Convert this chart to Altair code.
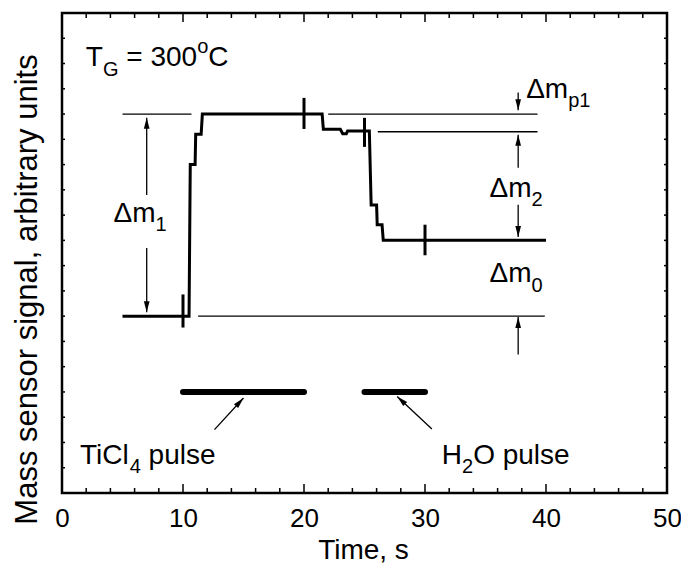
import math
import altair as alt
import pandas as pd

# ---------------- data ----------------
# main mass-sensor trace (time in s, signal in arbitrary units)
sig_t = [5.0, 10.5, 10.6, 11.0, 11.05, 11.5, 11.6, 21.5, 21.6, 23.0, 23.2, 23.5,
         23.6, 25.4, 25.55, 26.0, 26.05, 26.45, 26.55, 40.0]
sig_y = [7.0, 7.0, 13.0, 13.0, 14.2, 14.2, 15.0, 15.0, 14.4, 14.4, 14.22, 14.22,
         14.33, 14.33, 11.4, 11.4, 10.62, 10.62, 10.0, 10.0]

# short vertical markers crossing the trace at pulse start / end
mark_t = [10, 20, 25, 30]
mark_lo = [6.55, 14.41, 13.7, 9.41]
mark_hi = [7.86, 15.64, 14.85, 10.62]

# thin horizontal reference levels
ref_x1 = [5.0, 22.0, 26.1, 11.25]
ref_x2 = [10.7, 39.3, 39.3, 39.9]
ref_y = [15.0, 15.0, 14.3, 7.0]

# pulse bars (TiCl4, H2O)
pulse_x1 = [10, 25]
pulse_x2 = [20, 30]
pulse_y = [4.0, 4.0]

# arrows: tail (x1, y1) -> tip (x2, y2)
arr_x1 = [7.0, 7.0, 37.7, 37.7, 37.7, 37.7, 12.6, 30.57]
arr_y1 = [11.8, 9.7, 15.85, 12.87, 11.41, 5.48, 2.51, 2.53]
arr_x2 = [7.0, 7.0, 37.7, 37.7, 37.7, 37.7, 15.0, 27.7]
arr_y2 = [14.85, 7.15, 15.15, 14.18, 10.13, 6.97, 3.76, 3.82]

# annotations: anchor (time, signal) of the first glyph's baseline, and the
# text runs: (text, is_small, shift) with shift -1 = superscript, +1 = subscript
ann_x = [1.97, 38.36, 35.33, 35.33, 4.26, 1.48, 31.39]
ann_y = [16.89, 15.64, 11.72, 8.34, 10.74, 1.15, 1.15]
ann_runs = [
    [("T", 0, 0), ("G", 1, 1), (" = 300", 0, 0), ("o", 1, -1), ("C", 0, 0)],
    [("\u0394m", 0, 0), ("p1", 1, 1)],
    [("\u0394m", 0, 0), ("2", 1, 1)],
    [("\u0394m", 0, 0), ("0", 1, 1)],
    [("\u0394m", 0, 0), ("1", 1, 1)],
    [("TiCl", 0, 0), ("4", 1, 1), (" pulse", 0, 0)],
    [("H", 0, 0), ("2", 1, 1), ("O pulse", 0, 0)],
]

x_major = [0, 10, 20, 30, 40, 50]
x_minor = [v for v in range(2, 50, 2) if v % 10 != 0]
y_ticks = list(range(1, 19))

# ---------------- chart ----------------
W, H = 605, 480
XMAX, YMAX = 50, 19
FONT = "Liberation Sans"
FS_MAIN, FS_SMALL = 28, 20
SUB_PX, SUP_PX = 9.3, 13.5

# Liberation Sans (Arial metrics) advance widths, em units
ADV = {"T": .611, "G": .778, " ": .278, "=": .584, "0": .556, "1": .556,
       "2": .556, "3": .556, "4": .556, "o": .556, "C": .722, "\u0394": .668,
       "m": .833, "p": .556, "i": .222, "l": .222, "u": .556, "s": .5,
       "e": .556, "H": .722, "O": .778}


def text_w(s, size):
    return sum(ADV.get(c, .556) for c in s) * size


rows = []
for ax, ay, runs in zip(ann_x, ann_y, ann_runs):
    cur = 0.0
    for s, small, shift in runs:
        size = FS_SMALL if small else FS_MAIN
        lead = len(s) - len(s.lstrip(" "))
        cur += lead * ADV[" "] * size
        body = s.strip(" ")
        dy = SUB_PX if shift > 0 else (-SUP_PX if shift < 0 else 0.0)
        rows.append({"s": body, "x": ax + cur * XMAX / W,
                     "y": ay - dy * YMAX / H, "small": small})
        cur += text_w(body, size)
texts = pd.DataFrame(rows)

xs = alt.Scale(domain=[0, XMAX], nice=False, zero=False)
ys = alt.Scale(domain=[0, YMAX], nice=False, zero=False)

xaxis = alt.Axis(values=x_major, ticks=False, domain=False, grid=False,
                 labelFont=FONT, labelFontSize=26, labelColor="black",
                 labelPadding=12, labelFlush=False,
                 title="Time, s", titleFont=FONT, titleFontSize=28,
                 titleFontWeight="normal", titleColor="black",
                 titleX=301, titleY=65, titleBaseline="alphabetic")
yaxis = alt.Axis(labels=False, ticks=False, domain=False, grid=False,
                 title="Mass sensor signal, arbitrary units", titleFont=FONT,
                 titleFontSize=31, titleFontWeight="normal", titleColor="black",
                 titleAngle=270, titleX=-26, titleY=276,
                 titleBaseline="alphabetic", titleAlign="center")


def X(f):
    return alt.X(f, type="quantitative", scale=xs, axis=xaxis)


def Y(f):
    return alt.Y(f, type="quantitative", scale=ys, axis=yaxis)


sig = pd.DataFrame({"t": sig_t, "y": sig_y, "i": range(len(sig_t))})
marks = pd.DataFrame({"t": mark_t, "lo": mark_lo, "hi": mark_hi})
refs = pd.DataFrame({"x1": ref_x1, "x2": ref_x2, "y": ref_y})
pulses = pd.DataFrame({"x1": pulse_x1, "x2": pulse_x2, "y": pulse_y})
ang = []
for a, b, c, d in zip(arr_x1, arr_y1, arr_x2, arr_y2):
    dx = (c - a) * W / XMAX
    dy = -(d - b) * H / YMAX
    ang.append(math.degrees(math.atan2(dx, -dy)) % 360)
arrows = pd.DataFrame({"x1": arr_x1, "y1": arr_y1, "x2": arr_x2, "y2": arr_y2, "ang": ang})

line = alt.Chart(sig).mark_line(color="black", strokeWidth=3, strokeJoin="miter").encode(
    x=X("t"), y=Y("y"), order="i:Q",
)

ref = alt.Chart(refs).mark_rule(color="black", strokeWidth=1.3).encode(
    x=X("x1"), x2="x2:Q", y=Y("y"),
)

mk = alt.Chart(marks).mark_rule(color="black", strokeWidth=3).encode(
    x=X("t"), y=Y("lo"), y2="hi:Q",
)

pb = alt.Chart(pulses).mark_rule(color="black", strokeWidth=6, strokeCap="round").encode(
    x=X("x1"), x2="x2:Q", y=Y("y"),
)

arr_lines = alt.Chart(arrows).mark_rule(color="black", strokeWidth=1.3).encode(
    x=X("x1"), x2="x2:Q", y=Y("y1"), y2="y2:Q",
)

arr_heads = alt.Chart(arrows).mark_point(
    shape="M0,0L-0.26,1L0.26,1Z", filled=True, color="black", opacity=1,
    size=484, strokeWidth=0,
).encode(
    x=X("x2"), y=Y("y2"), angle=alt.Angle("ang:Q", scale=None),
)

t_main = alt.Chart(texts).transform_filter("datum.small == 0").mark_text(
    font=FONT, fontSize=FS_MAIN, color="black", align="left", baseline="alphabetic"
).encode(x=X("x"), y=Y("y"), text="s:N")
t_small = alt.Chart(texts).transform_filter("datum.small == 1").mark_text(
    font=FONT, fontSize=FS_SMALL, color="black", align="left", baseline="alphabetic"
).encode(x=X("x"), y=Y("y"), text="s:N")

# inward tick marks on all four sides
xt_major = pd.DataFrame({"t": x_major})
xt_minor = pd.DataFrame({"t": x_minor})
ytk = pd.DataFrame({"v": y_ticks})


def xticks(df, length):
    base = alt.Chart(df).mark_rule(color="black", strokeWidth=1.5)
    bot = base.encode(x=X("t"), y=alt.value(H), y2=alt.value(H - length))
    top = base.encode(x=X("t"), y=alt.value(0), y2=alt.value(length))
    return [bot, top]


ybase = alt.Chart(ytk).mark_rule(color="black", strokeWidth=1.5)
yl = ybase.encode(y=Y("v"), x=alt.value(0), x2=alt.value(3))
yr = ybase.encode(y=Y("v"), x=alt.value(W), x2=alt.value(W - 3))

chart = alt.layer(
    line, *xticks(xt_major, 9), *xticks(xt_minor, 5), yl, yr,
    ref, mk, pb, arr_lines, arr_heads, t_main, t_small,
).properties(
    width=W, height=H,
    padding={"left": 54, "top": 5, "right": 14, "bottom": 71},
    autosize=alt.AutoSizeParams(type="none"),
).configure_view(
    stroke="black", strokeWidth=2.5,
)

chart.save("out.html", embed_options={"renderer": "svg", "actions": False})
